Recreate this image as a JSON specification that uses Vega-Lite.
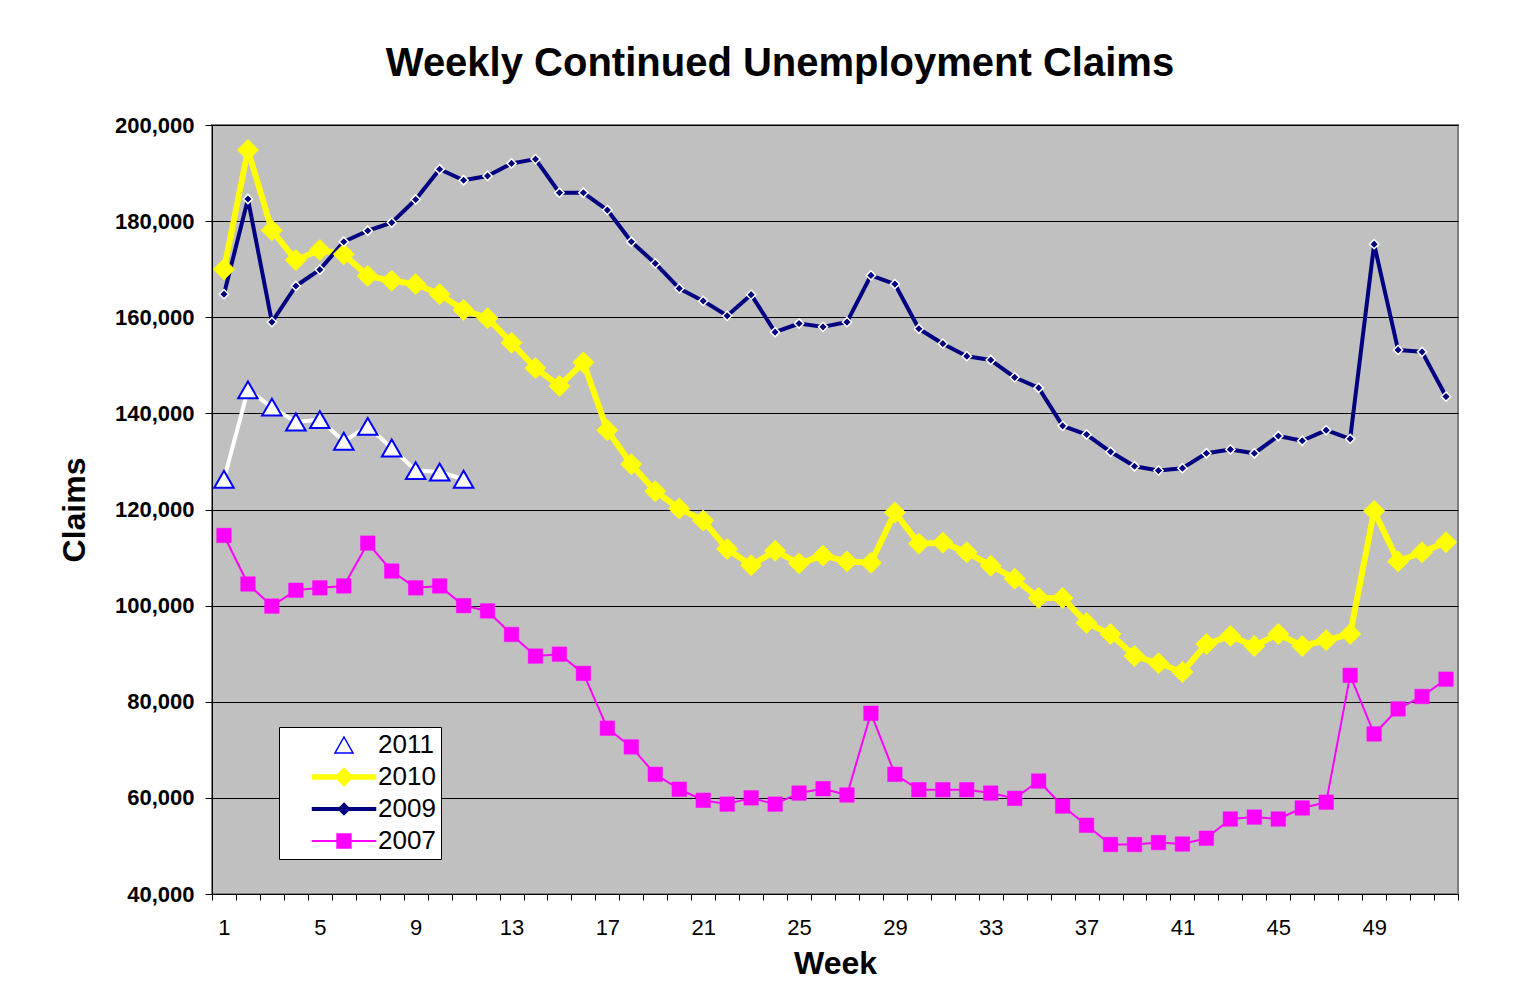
{
  "$schema": "https://vega.github.io/schema/vega-lite/v6.json",
  "width": 1246,
  "height": 769,
  "autosize": {"type": "none"},
  "padding": {"left": 212, "top": 125, "right": 81, "bottom": 95},
  "background": "white",
  "title": {
    "text": "Weekly Continued Unemployment Claims",
    "font": "Liberation Sans",
    "fontSize": 40,
    "fontWeight": "bold",
    "color": "black",
    "anchor": "middle",
    "dx": -55,
    "offset": -2,
    "baseline": "alphabetic"
  },
  "data": {
    "values": [
      {"week": 1, "year": "2011", "claims": 126300},
      {"week": 2, "year": "2011", "claims": 144900},
      {"week": 3, "year": "2011", "claims": 141300},
      {"week": 4, "year": "2011", "claims": 138200},
      {"week": 5, "year": "2011", "claims": 138700},
      {"week": 6, "year": "2011", "claims": 134200},
      {"week": 7, "year": "2011", "claims": 137300},
      {"week": 8, "year": "2011", "claims": 132800},
      {"week": 9, "year": "2011", "claims": 128100},
      {"week": 10, "year": "2011", "claims": 127800},
      {"week": 11, "year": "2011", "claims": 126300},
      {"week": 1, "year": "2010", "claims": 170000},
      {"week": 2, "year": "2010", "claims": 194800},
      {"week": 3, "year": "2010", "claims": 178100},
      {"week": 4, "year": "2010", "claims": 171900},
      {"week": 5, "year": "2010", "claims": 174000},
      {"week": 6, "year": "2010", "claims": 173100},
      {"week": 7, "year": "2010", "claims": 168600},
      {"week": 8, "year": "2010", "claims": 167600},
      {"week": 9, "year": "2010", "claims": 166900},
      {"week": 10, "year": "2010", "claims": 164800},
      {"week": 11, "year": "2010", "claims": 161500},
      {"week": 12, "year": "2010", "claims": 159800},
      {"week": 13, "year": "2010", "claims": 154700},
      {"week": 14, "year": "2010", "claims": 149400},
      {"week": 15, "year": "2010", "claims": 145700},
      {"week": 16, "year": "2010", "claims": 150600},
      {"week": 17, "year": "2010", "claims": 136500},
      {"week": 18, "year": "2010", "claims": 129400},
      {"week": 19, "year": "2010", "claims": 123800},
      {"week": 20, "year": "2010", "claims": 120200},
      {"week": 21, "year": "2010", "claims": 117700},
      {"week": 22, "year": "2010", "claims": 111800},
      {"week": 23, "year": "2010", "claims": 108400},
      {"week": 24, "year": "2010", "claims": 111400},
      {"week": 25, "year": "2010", "claims": 108800},
      {"week": 26, "year": "2010", "claims": 110400},
      {"week": 27, "year": "2010", "claims": 109200},
      {"week": 28, "year": "2010", "claims": 108900},
      {"week": 29, "year": "2010", "claims": 119400},
      {"week": 30, "year": "2010", "claims": 112900},
      {"week": 31, "year": "2010", "claims": 113100},
      {"week": 32, "year": "2010", "claims": 111100},
      {"week": 33, "year": "2010", "claims": 108300},
      {"week": 34, "year": "2010", "claims": 105600},
      {"week": 35, "year": "2010", "claims": 101600},
      {"week": 36, "year": "2010", "claims": 101600},
      {"week": 37, "year": "2010", "claims": 96400},
      {"week": 38, "year": "2010", "claims": 94100},
      {"week": 39, "year": "2010", "claims": 89500},
      {"week": 40, "year": "2010", "claims": 88000},
      {"week": 41, "year": "2010", "claims": 86200},
      {"week": 42, "year": "2010", "claims": 92000},
      {"week": 43, "year": "2010", "claims": 93700},
      {"week": 44, "year": "2010", "claims": 91600},
      {"week": 45, "year": "2010", "claims": 94100},
      {"week": 46, "year": "2010", "claims": 91600},
      {"week": 47, "year": "2010", "claims": 92800},
      {"week": 48, "year": "2010", "claims": 94100},
      {"week": 49, "year": "2010", "claims": 119700},
      {"week": 50, "year": "2010", "claims": 109200},
      {"week": 51, "year": "2010", "claims": 111100},
      {"week": 52, "year": "2010", "claims": 113200},
      {"week": 1, "year": "2009", "claims": 164800},
      {"week": 2, "year": "2009", "claims": 184600},
      {"week": 3, "year": "2009", "claims": 159000},
      {"week": 4, "year": "2009", "claims": 166500},
      {"week": 5, "year": "2009", "claims": 169900},
      {"week": 6, "year": "2009", "claims": 175700},
      {"week": 7, "year": "2009", "claims": 178000},
      {"week": 8, "year": "2009", "claims": 179700},
      {"week": 9, "year": "2009", "claims": 184500},
      {"week": 10, "year": "2009", "claims": 190800},
      {"week": 11, "year": "2009", "claims": 188500},
      {"week": 12, "year": "2009", "claims": 189400},
      {"week": 13, "year": "2009", "claims": 192000},
      {"week": 14, "year": "2009", "claims": 192900},
      {"week": 15, "year": "2009", "claims": 185900},
      {"week": 16, "year": "2009", "claims": 185900},
      {"week": 17, "year": "2009", "claims": 182300},
      {"week": 18, "year": "2009", "claims": 175700},
      {"week": 19, "year": "2009", "claims": 171200},
      {"week": 20, "year": "2009", "claims": 166000},
      {"week": 21, "year": "2009", "claims": 163400},
      {"week": 22, "year": "2009", "claims": 160300},
      {"week": 23, "year": "2009", "claims": 164700},
      {"week": 24, "year": "2009", "claims": 156900},
      {"week": 25, "year": "2009", "claims": 158700},
      {"week": 26, "year": "2009", "claims": 158000},
      {"week": 27, "year": "2009", "claims": 159000},
      {"week": 28, "year": "2009", "claims": 168700},
      {"week": 29, "year": "2009", "claims": 166900},
      {"week": 30, "year": "2009", "claims": 157600},
      {"week": 31, "year": "2009", "claims": 154500},
      {"week": 32, "year": "2009", "claims": 151900},
      {"week": 33, "year": "2009", "claims": 151100},
      {"week": 34, "year": "2009", "claims": 147500},
      {"week": 35, "year": "2009", "claims": 145300},
      {"week": 36, "year": "2009", "claims": 137400},
      {"week": 37, "year": "2009", "claims": 135600},
      {"week": 38, "year": "2009", "claims": 132000},
      {"week": 39, "year": "2009", "claims": 129000},
      {"week": 40, "year": "2009", "claims": 128100},
      {"week": 41, "year": "2009", "claims": 128600},
      {"week": 42, "year": "2009", "claims": 131700},
      {"week": 43, "year": "2009", "claims": 132500},
      {"week": 44, "year": "2009", "claims": 131700},
      {"week": 45, "year": "2009", "claims": 135300},
      {"week": 46, "year": "2009", "claims": 134300},
      {"week": 47, "year": "2009", "claims": 136500},
      {"week": 48, "year": "2009", "claims": 134700},
      {"week": 49, "year": "2009", "claims": 175200},
      {"week": 50, "year": "2009", "claims": 153200},
      {"week": 51, "year": "2009", "claims": 152800},
      {"week": 52, "year": "2009", "claims": 143500},
      {"week": 1, "year": "2007", "claims": 114600},
      {"week": 2, "year": "2007", "claims": 104500},
      {"week": 3, "year": "2007", "claims": 99900},
      {"week": 4, "year": "2007", "claims": 103200},
      {"week": 5, "year": "2007", "claims": 103700},
      {"week": 6, "year": "2007", "claims": 104100},
      {"week": 7, "year": "2007", "claims": 113000},
      {"week": 8, "year": "2007", "claims": 107200},
      {"week": 9, "year": "2007", "claims": 103700},
      {"week": 10, "year": "2007", "claims": 104100},
      {"week": 11, "year": "2007", "claims": 100000},
      {"week": 12, "year": "2007", "claims": 98900},
      {"week": 13, "year": "2007", "claims": 94000},
      {"week": 14, "year": "2007", "claims": 89500},
      {"week": 15, "year": "2007", "claims": 89900},
      {"week": 16, "year": "2007", "claims": 85900},
      {"week": 17, "year": "2007", "claims": 74500},
      {"week": 18, "year": "2007", "claims": 70600},
      {"week": 19, "year": "2007", "claims": 64900},
      {"week": 20, "year": "2007", "claims": 61800},
      {"week": 21, "year": "2007", "claims": 59500},
      {"week": 22, "year": "2007", "claims": 58700},
      {"week": 23, "year": "2007", "claims": 60000},
      {"week": 24, "year": "2007", "claims": 58700},
      {"week": 25, "year": "2007", "claims": 61000},
      {"week": 26, "year": "2007", "claims": 61900},
      {"week": 27, "year": "2007", "claims": 60600},
      {"week": 28, "year": "2007", "claims": 77600},
      {"week": 29, "year": "2007", "claims": 64900},
      {"week": 30, "year": "2007", "claims": 61700},
      {"week": 31, "year": "2007", "claims": 61700},
      {"week": 32, "year": "2007", "claims": 61700},
      {"week": 33, "year": "2007", "claims": 61000},
      {"week": 34, "year": "2007", "claims": 59900},
      {"week": 35, "year": "2007", "claims": 63500},
      {"week": 36, "year": "2007", "claims": 58300},
      {"week": 37, "year": "2007", "claims": 54300},
      {"week": 38, "year": "2007", "claims": 50300},
      {"week": 39, "year": "2007", "claims": 50300},
      {"week": 40, "year": "2007", "claims": 50700},
      {"week": 41, "year": "2007", "claims": 50400},
      {"week": 42, "year": "2007", "claims": 51600},
      {"week": 43, "year": "2007", "claims": 55600},
      {"week": 44, "year": "2007", "claims": 56000},
      {"week": 45, "year": "2007", "claims": 55600},
      {"week": 46, "year": "2007", "claims": 57900},
      {"week": 47, "year": "2007", "claims": 59100},
      {"week": 48, "year": "2007", "claims": 85500},
      {"week": 49, "year": "2007", "claims": 73300},
      {"week": 50, "year": "2007", "claims": 78500},
      {"week": 51, "year": "2007", "claims": 81100},
      {"week": 52, "year": "2007", "claims": 84700}
    ]
  },
  "encoding": {
    "x": {
      "field": "week",
      "type": "ordinal",
      "bandPosition": 0.5,
      "scale": {"type": "band", "paddingInner": 0, "paddingOuter": 0},
      "axis": {
        "title": "Week",
        "tickBand": "extent",
        "labelExpr": "(datum.value - 1) % 4 == 0 ? datum.label : ''",
        "labelAngle": 0,
        "labelOverlap": false,
        "labelFont": "Liberation Sans",
        "labelFontSize": 22,
        "labelColor": "black",
        "labelPadding": 17,
        "tickColor": "black",
        "tickSize": 6,
        "domainColor": "black",
        "grid": false,
        "titleFont": "Liberation Sans",
        "titleFontSize": 32,
        "titleFontWeight": "bold",
        "titleColor": "black",
        "titlePadding": 10
      }
    },
    "y": {
      "field": "claims",
      "type": "quantitative",
      "scale": {"domain": [40000, 200000], "nice": false, "zero": false},
      "axis": {
        "title": "Claims",
        "values": [40000, 60000, 80000, 100000, 120000, 140000, 160000, 180000, 200000],
        "format": ",d",
        "labelFont": "Liberation Sans",
        "labelFontSize": 22,
        "labelFontWeight": "bold",
        "labelColor": "black",
        "labelPadding": 11,
        "tickSize": 7,
        "tickColor": "black",
        "domainColor": "black",
        "grid": true,
        "gridColor": "black",
        "gridWidth": 1,
        "gridOpacity": 1,
        "titleFont": "Liberation Sans",
        "titleFontSize": 32,
        "titleFontWeight": "bold",
        "titleColor": "black",
        "titlePadding": 23
      }
    }
  },
  "layer": [
    {
      "mark": {"type": "line", "strokeJoin": "round", "strokeCap": "round"},
      "encoding": {
        "color": {
          "field": "year", "type": "nominal",
          "scale": {"domain": ["2011", "2010", "2009", "2007"], "range": ["#FFFFFF", "#FFFF00", "#000080", "#FF00FF"]},
          "legend": null
        },
        "strokeWidth": {
          "field": "year", "type": "nominal",
          "scale": {"type": "ordinal", "domain": ["2011", "2010", "2009", "2007"], "range": [4, 6, 4, 2]},
          "legend": null
        }
      }
    },
    {
      "mark": {"type": "point", "filled": true, "opacity": 1},
      "encoding": {
        "shape": {
          "field": "year", "type": "nominal",
          "scale": {"domain": ["2011", "2010", "2009", "2007"], "range": ["triangle-up", "diamond", "diamond", "square"]},
          "legend": null
        },
        "fill": {
          "field": "year", "type": "nominal",
          "scale": {"domain": ["2011", "2010", "2009", "2007"], "range": ["#FFFFFF", "#FFFF00", "#000080", "#FF00FF"]},
          "legend": null
        },
        "stroke": {
          "field": "year", "type": "nominal",
          "scale": {"domain": ["2011", "2010", "2009", "2007"], "range": ["#0000FF", "#FFFF00", "#FFFFFF", "#FF00FF"]},
          "legend": null
        },
        "size": {
          "field": "year", "type": "nominal",
          "scale": {"type": "ordinal", "domain": ["2011", "2010", "2009", "2007"], "range": [380, 440, 85, 210]},
          "legend": null
        },
        "strokeWidth": {
          "field": "year", "type": "nominal",
          "scale": {"type": "ordinal", "domain": ["2011", "2010", "2009", "2007"], "range": [2, 1, 1.5, 0.5]},
          "legend": null
        }
      }
    },
    {
      "transform": [{"filter": "datum.week < 0"}],
      "mark": {"type": "point", "filled": true, "opacity": 1, "strokeWidth": 1.5},
      "encoding": {
        "shape": {
          "field": "year", "type": "nominal",
          "scale": {"domain": ["2011", "2010", "2009", "2007"], "range": [
            "M0,-0.8L0.9,0.8L-0.9,0.8Z",
            "M-3.15,-0.19H3.15V0.19H-3.15Z M0,-0.88L0.88,0L0,0.88L-0.88,0Z",
            "M-3.15,-0.12H3.15V0.12H-3.15Z M0,-0.57L0.57,0L0,0.57L-0.57,0Z",
            "M-3.15,-0.03H3.15V0.03H-3.15Z M-0.69,-0.69H0.69V0.69H-0.69Z"
          ]},
          "legend": {"title": null, "orient": "none", "legendX": 67, "legendY": 602, "symbolSize": 400, "symbolStrokeWidth": 1.5, "labelFont": "Liberation Sans", "labelFontSize": 26, "labelColor": "black", "fillColor": "white", "strokeColor": "black", "padding": 5, "rowPadding": 6, "symbolOffset": 47, "labelOffset": 21}
        },
        "fill": {
          "field": "year", "type": "nominal",
          "scale": {"domain": ["2011", "2010", "2009", "2007"], "range": ["#FFFFFF", "#FFFF00", "#000080", "#FF00FF"]},
          "legend": {"title": null, "orient": "none", "legendX": 67, "legendY": 602, "symbolSize": 400, "symbolStrokeWidth": 1.5, "labelFont": "Liberation Sans", "labelFontSize": 26, "labelColor": "black", "fillColor": "white", "strokeColor": "black", "padding": 5, "rowPadding": 6, "symbolOffset": 47, "labelOffset": 21}
        },
        "stroke": {
          "field": "year", "type": "nominal",
          "scale": {"domain": ["2011", "2010", "2009", "2007"], "range": ["#0000FF", "#FFFF00", "#000080", "#FF00FF"]},
          "legend": {"title": null, "orient": "none", "legendX": 67, "legendY": 602, "symbolSize": 400, "symbolStrokeWidth": 1.5, "labelFont": "Liberation Sans", "labelFontSize": 26, "labelColor": "black", "fillColor": "white", "strokeColor": "black", "padding": 5, "rowPadding": 6, "symbolOffset": 47, "labelOffset": 21}
        }
      }
    }
  ],
  "resolve": {
    "scale": {"color": "independent", "fill": "independent", "stroke": "independent", "shape": "independent", "size": "independent", "strokeWidth": "independent"}
  },
  "config": {
    "view": {"fill": "#C0C0C0", "stroke": "#808080", "strokeWidth": 2},
    "font": "Liberation Sans"
  }
}
